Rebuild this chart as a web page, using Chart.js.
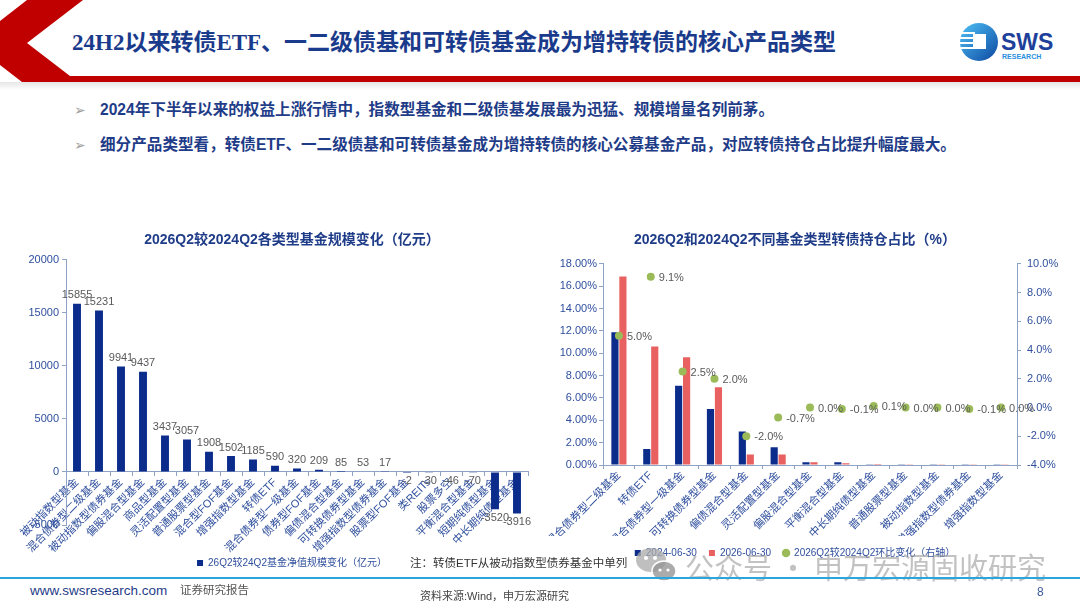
<!DOCTYPE html>
<html>
<head>
<meta charset="utf-8">
<script src="https://cdn.jsdelivr.net/npm/chart.js@4.4.1/dist/chart.umd.min.js"></script>
<style>
  body { margin: 0; background: #fff; }
  #page { position: relative; width: 1080px; height: 608px; overflow: hidden; background: #fff;
          font-family: "Liberation Sans", "Noto Sans CJK SC", sans-serif; }
  .abs { position: absolute; white-space: nowrap; }
  .bullet { left: 100px; font-size: 15.6px; font-weight: bold; color: #1f3c88; line-height: 20px; }
  .arrow { left: 74px; font: 14px "DejaVu Sans"; color: #a0a0a0; line-height: 20px; }
  .box { position: absolute; }
</style>
</head>
<body>
<div id="page">
  <!-- header band -->
  <div class="abs" style="left:0;top:82px;width:1080px;height:8px;background:linear-gradient(#e6e6e6,#fff)"></div>
  <svg class="abs" style="left:0;top:0" width="1080" height="90">
    <polygon points="27,0 83,0 27,43 70,76 1080,76 1080,82 22,82 0,65 0,21" fill="#c00000"/>
  </svg>
  <div class="abs" style="left:72px;top:28px;font:bold 23px 'Liberation Serif','Noto Sans CJK SC';color:#1a3a8c;line-height:30px">24H2以来转债ETF、一二级债基和可转债基金成为增持转债的核心产品类型</div>

  <!-- logo -->
  <svg class="abs" style="left:955px;top:18px" width="110" height="50">
    <defs>
      <linearGradient id="lg" x1="0" y1="0" x2="1" y2="1">
        <stop offset="0" stop-color="#4fc3f7"/><stop offset="1" stop-color="#0d47a1"/>
      </linearGradient>
    </defs>
    <circle cx="24" cy="24" r="19" fill="url(#lg)"/>
    <rect x="6" y="14" width="14" height="2" fill="#fff"/>
    <rect x="5" y="19" width="15" height="2" fill="#fff"/>
    <rect x="5" y="24" width="15" height="2" fill="#fff"/>
    <rect x="6" y="29" width="14" height="2" fill="#fff"/>
    <rect x="18" y="16" width="13" height="15" fill="#fff"/>
    <text x="46" y="32" font-family="Liberation Sans" font-weight="bold" font-size="23" fill="#1e3f9a">SWS</text>
    <text x="47" y="41" font-family="Liberation Sans" font-weight="bold" font-size="7" fill="#2a8fe0">RESEARCH</text>
  </svg>

  <!-- bullets -->
  <div class="abs arrow" style="top:100px">➢</div>
  <div class="abs bullet" style="top:100px">2024年下半年以来的权益上涨行情中，指数型基金和二级债基发展最为迅猛、规模增量名列前茅。</div>
  <div class="abs arrow" style="top:135px">➢</div>
  <div class="abs bullet" style="top:135px">细分产品类型看，转债ETF、一二级债基和可转债基金成为增持转债的核心公募基金产品，对应转债持仓占比提升幅度最大。</div>

  <!-- charts -->
  <div class="box" style="left:8px;top:226px;width:568px;height:354px"><canvas id="sizeChart"></canvas></div>
  <div class="box" style="left:515px;top:226px;width:560px;height:354px"><canvas id="shareChart"></canvas></div>

  <!-- note + watermark -->
  <div class="abs" style="left:410px;top:555px;font-size:11.5px;color:#333;line-height:16px">注：转债ETF从被动指数型债券基金中单列</div>
  <svg class="abs" style="left:634px;top:546px" width="50" height="38">
    <ellipse cx="17" cy="14" rx="15" ry="12" fill="rgba(170,170,170,0.75)"/>
    <ellipse cx="30" cy="25" rx="12" ry="10" fill="rgba(150,150,150,0.8)" stroke="#fff" stroke-width="1.5"/>
    <circle cx="12" cy="12" r="2" fill="#fff"/><circle cx="21" cy="12" r="2" fill="#fff"/>
    <circle cx="26" cy="24" r="1.6" fill="#fff"/><circle cx="34" cy="24" r="1.6" fill="#fff"/>
  </svg>
  <div class="abs" style="left:685px;top:548px;font:29px 'Noto Sans CJK SC';color:rgba(150,150,150,0.58);line-height:36px">公众号 · 申万宏源固收研究</div>

  <!-- footer -->
  <div class="abs" style="left:0;top:577px;width:1080px;height:2px;background:#2aa6de"></div>
  <div class="abs" style="left:30px;top:583px;font-size:13.5px;color:#1f3c88;line-height:16px">www.swsresearch.com</div>
  <div class="abs" style="left:180px;top:582px;font-size:11.5px;color:#555;line-height:16px">证券研究报告</div>
  <div class="abs" style="left:420px;top:588px;font-size:11px;color:#444;line-height:16px">资料来源:Wind，申万宏源研究</div>
  <div class="abs" style="left:1037px;top:584px;font-size:12px;color:#3d5a9e;line-height:16px">8</div>
</div>

<script>
// 左图：26Q2较24Q2各类型基金规模变化（亿元）
const sizeCats = ['被动指数型基金', '混合债券型二级基金', '被动指数型债券基金', '偏股混合型基金', '商品型基金',
  '灵活配置型基金', '普通股票型基金', '混合型FOF基金', '增强指数型基金', '转债ETF', '混合债券型一级基金',
  '债券型FOF基金', '偏债混合型基金', '可转换债券型基金', '增强指数型债券基金', '股票型FOF基金', '类REITs',
  '股票多空', '平衡混合型基金', '短期纯债型基金', '中长期纯债型基金'];
const sizeChange = [15855, 15231, 9941, 9437, 3437, 3057, 1908, 1502, 1185, 590, 320,
  209, 85, 53, 17, -2, -30, -46, -70, -3520, -3916];
const sizeTicks = [-5000, 0, 5000, 10000, 15000, 20000];

// 右图：不同基金类型转债持仓占比（%）
const shareCats = ['混合债券型二级基金', '转债ETF', '混合债券型一级基金', '可转换债券型基金', '偏债混合型基金',
  '灵活配置型基金', '偏股混合型基金', '平衡混合型基金', '中长期纯债型基金', '普通股票型基金', '被动指数型基金',
  '增强指数型债券基金', '增强指数型基金'];
const share2024 = [11.88, 1.43, 7.10, 5.00, 2.99, 1.58, 0.24, 0.24, 0.02, 0.06, 0.06, 0.06, 0.06];
const share2026 = [16.87, 10.60, 9.64, 6.96, 0.93, 0.93, 0.24, 0.15, 0.09, 0.06, 0.06, 0.06, 0.06];
const shareDelta = [5.0, 9.1, 2.5, 2.0, -2.0, -0.7, 0.0, -0.1, 0.1, 0.0, 0.0, -0.1, 0.0];

const FONT = '"Liberation Sans", "Noto Sans CJK SC", sans-serif';
const AXIS = '#8ea3c6';
const TICK = '#2f4f9d';
const BLUE = '#0c2c8c';
const RED = '#e8605f';
const GREEN = '#9bbb59';
const TITLE = '#1f3c88';

Chart.defaults.font.family = FONT;

// value labels above / below the bars
const barValueLabels = {
  id: 'barValueLabels',
  afterDatasetsDraw(chart) {
    const { ctx } = chart;
    const values = chart.data.datasets[0].data;
    ctx.save();
    ctx.font = '11px ' + FONT;
    ctx.fillStyle = '#595959';
    ctx.textAlign = 'center';
    chart.getDatasetMeta(0).data.forEach((bar, i) => {
      const v = values[i];
      if (v >= 0) {
        ctx.textBaseline = 'bottom';
        ctx.fillText(v, bar.x, bar.y - 3);
      } else {
        ctx.textBaseline = 'top';
        ctx.fillText(v, bar.x, bar.y + 3);
      }
    });
    ctx.restore();
  }
};

// labels right of the scatter points
const pointValueLabels = {
  id: 'pointValueLabels',
  afterDatasetsDraw(chart) {
    const { ctx } = chart;
    const values = chart.data.datasets[2].data;
    ctx.save();
    ctx.font = '11px ' + FONT;
    ctx.fillStyle = '#595959';
    ctx.textAlign = 'left';
    ctx.textBaseline = 'middle';
    chart.getDatasetMeta(2).data.forEach((pt, i) => {
      ctx.fillText(values[i].toFixed(1) + '%', pt.x + 8, pt.y + 1);
    });
    ctx.restore();
  }
};

const catTicks = {
  maxRotation: 45, minRotation: 45, autoSkip: false,
  color: TICK, font: { size: 11 }, padding: 0
};
const tickGrid = { drawOnChartArea: false, drawTicks: true, tickLength: 4, color: AXIS };

new Chart(document.getElementById('sizeChart'), {
  type: 'bar',
  data: {
    labels: sizeCats,
    datasets: [{
      label: '26Q2较24Q2基金净值规模变化（亿元）',
      data: sizeChange,
      backgroundColor: BLUE,
      barPercentage: 0.36,
      categoryPercentage: 1,
      pointStyle: 'rect'
    }]
  },
  options: {
    responsive: true,
    maintainAspectRatio: false,
    animation: false,
    layout: { padding: { left: 0, right: 0, top: 0, bottom: 2 } },
    plugins: {
      title: {
        display: true,
        text: '2026Q2较2024Q2各类型基金规模变化（亿元）',
        color: TITLE,
        font: { size: 14, weight: 'bold' },
        padding: { top: 6, bottom: 11 }
      },
      legend: {
        position: 'bottom',
        labels: { usePointStyle: true, boxWidth: 6, boxHeight: 6, padding: 33, color: TICK, font: { size: 10 } }
      },
      tooltip: { enabled: false }
    },
    scales: {
      x: {
        position: { y: 0 },
        grid: tickGrid,
        border: { color: AXIS },
        ticks: catTicks
      },
      y: {
        min: -5000,
        max: 20000,
        afterBuildTicks: s => { s.ticks = sizeTicks.map(v => ({ value: v })); },
        ticks: { color: TICK, font: { size: 11 }, padding: 3, callback: v => String(v) },
        grid: tickGrid,
        border: { color: AXIS },
        afterFit: s => { s.width = 58; }
      },
      // empty spacer on the right so the title centres like the original
      spacer: {
        position: 'right',
        min: 0,
        max: 1,
        ticks: { display: false },
        grid: { display: false },
        border: { display: false },
        afterFit: s => { s.width = 48; }
      }
    }
  },
  plugins: [barValueLabels]
});

new Chart(document.getElementById('shareChart'), {
  type: 'bar',
  data: {
    labels: shareCats,
    datasets: [
      {
        label: '2024-06-30',
        data: share2024,
        backgroundColor: BLUE,
        barPercentage: 0.9,
        categoryPercentage: 0.5,
        pointStyle: 'rect',
        yAxisID: 'y',
        order: 2
      },
      {
        label: '2026-06-30',
        data: share2026,
        backgroundColor: RED,
        barPercentage: 0.9,
        categoryPercentage: 0.5,
        pointStyle: 'rect',
        yAxisID: 'y',
        order: 2
      },
      {
        type: 'line',
        label: '2026Q2较2024Q2环比变化（右轴）',
        data: shareDelta,
        showLine: false,
        pointRadius: 4,
        pointStyle: 'circle',
        backgroundColor: GREEN,
        borderColor: GREEN,
        pointBackgroundColor: GREEN,
        pointBorderWidth: 0,
        yAxisID: 'y1',
        order: 0
      }
    ]
  },
  options: {
    responsive: true,
    maintainAspectRatio: false,
    animation: false,
    layout: { padding: { left: 0, right: 0, top: 0, bottom: 12 } },
    plugins: {
      title: {
        display: true,
        text: '2026Q2和2024Q2不同基金类型转债持仓占比（%）',
        color: TITLE,
        font: { size: 14, weight: 'bold' },
        padding: { top: 6, bottom: 15 }
      },
      legend: {
        position: 'bottom',
        labels: {
          usePointStyle: true, boxWidth: 6, boxHeight: 6, padding: 12, color: TICK, font: { size: 10 },
          sort: (a, b) => a.datasetIndex - b.datasetIndex
        }
      },
      tooltip: { enabled: false }
    },
    scales: {
      x: {
        grid: tickGrid,
        border: { color: AXIS },
        ticks: catTicks,
        afterFit: s => { s.height = 71; }
      },
      y: {
        position: 'left',
        min: 0,
        max: 18,
        ticks: { stepSize: 2, color: TICK, font: { size: 11 }, padding: 2, callback: v => v.toFixed(2) + '%' },
        grid: tickGrid,
        border: { color: AXIS },
        afterFit: s => { s.width = 88; }
      },
      y1: {
        position: 'right',
        min: -4,
        max: 10,
        ticks: { stepSize: 2, color: TICK, font: { size: 11 }, padding: 6, callback: v => v.toFixed(1) + '%' },
        grid: tickGrid,
        border: { color: AXIS },
        afterFit: s => { s.width = 58; }
      }
    }
  },
  plugins: [pointValueLabels]
});
</script>
</body>
</html>
